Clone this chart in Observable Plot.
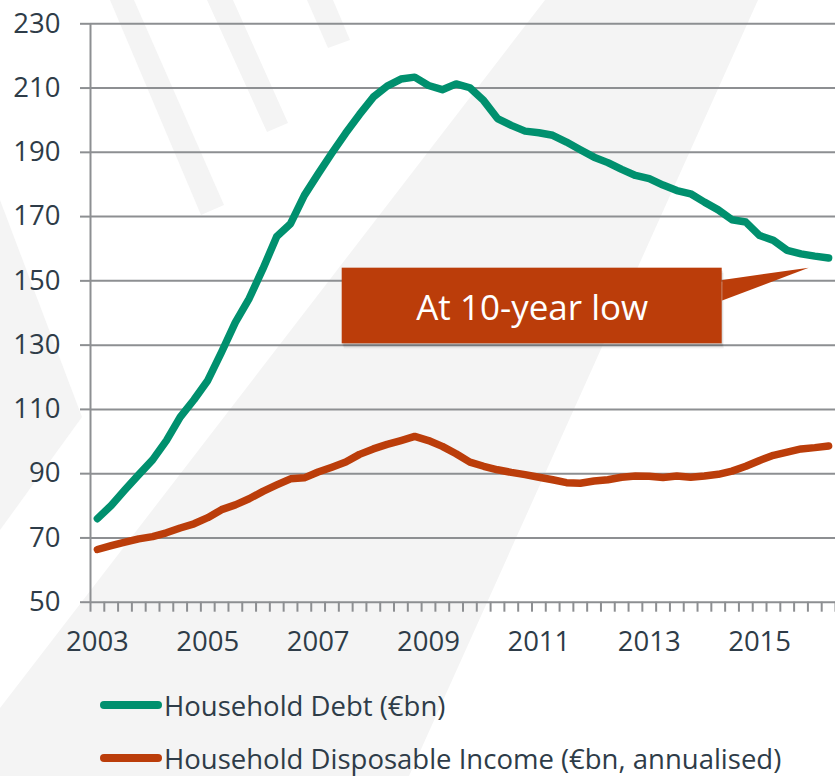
<!DOCTYPE html>
<html>
<head>
<meta charset="utf-8">
<script src="https://cdn.jsdelivr.net/npm/d3@7"></script>
<script src="https://cdn.jsdelivr.net/npm/@observablehq/plot@0.6"></script>
<style>
  html, body { margin: 0; padding: 0; background: #ffffff; }
  #wrap { position: relative; width: 835px; height: 776px; overflow: hidden; font-family: "Open Sans", sans-serif; color: #2e3c48; }
  #deco { position: absolute; left: 0; top: 0; }
  #chart { position: absolute; left: 0; top: 0; }
  #legend { position: absolute; left: 100px; top: 683px; }
  .row { display: flex; align-items: center; height: 44px; margin-bottom: 9px; font-size: 27.5px; white-space: nowrap; }
  .row svg { display: block; margin-right: 2px; }
</style>
</head>
<body>
<div id="wrap">
  <svg id="deco" width="835" height="776">
    <g fill="#f4f4f4">
      <polygon points="545,0 758,0 409,776 0,776 0,708"/>
      <polygon points="0,200 82,417 0,530"/>
      <polygon points="110,0 134,0 224,205 201,215"/>
      <polygon points="207,0 233,0 288,123 267,132"/>
      <polygon points="307,0 333,0 350,40 328,48"/>
    </g>
  </svg>
  <div id="chart"></div>
  <div id="legend"></div>
</div>
<script>
// ---- data ----
const quarters = [
  "2003Q1","2003Q2","2003Q3","2003Q4","2004Q1","2004Q2","2004Q3","2004Q4",
  "2005Q1","2005Q2","2005Q3","2005Q4","2006Q1","2006Q2","2006Q3","2006Q4",
  "2007Q1","2007Q2","2007Q3","2007Q4","2008Q1","2008Q2","2008Q3","2008Q4",
  "2009Q1","2009Q2","2009Q3","2009Q4","2010Q1","2010Q2","2010Q3","2010Q4",
  "2011Q1","2011Q2","2011Q3","2011Q4","2012Q1","2012Q2","2012Q3","2012Q4",
  "2013Q1","2013Q2","2013Q3","2013Q4","2014Q1","2014Q2","2014Q3","2014Q4",
  "2015Q1","2015Q2","2015Q3","2015Q4","2016Q1","2016Q2"
];
const householdDebt = [
  76.0, 80.1, 85.0, 89.7, 94.3, 100.3, 107.6, 113.0,
  119.0, 127.8, 137.1, 144.5, 153.8, 163.8, 167.8, 176.6,
  183.3, 189.8, 196.0, 201.8, 207.2, 210.6, 212.8, 213.4,
  210.8, 209.5, 211.3, 210.1, 206.1, 200.5, 198.4, 196.6,
  196.1, 195.3, 193.2, 190.8, 188.5, 186.8, 184.7, 182.8,
  181.8, 179.8, 178.1, 177.1, 174.5, 172.1, 169.0, 168.3,
  164.1, 162.6, 159.5, 158.4, 157.7, 157.1
];
const disposableIncome = [
  66.4, 67.6, 68.7, 69.7, 70.4, 71.6, 73.1, 74.4,
  76.3, 78.8, 80.3, 82.2, 84.5, 86.5, 88.4, 88.7,
  90.5, 92.0, 93.6, 96.0, 97.7, 99.1, 100.3, 101.6,
  100.3, 98.5, 96.2, 93.6, 92.3, 91.2, 90.4, 89.7,
  88.9, 88.1, 87.2, 87.0, 87.7, 88.1, 88.9, 89.3,
  89.2, 88.8, 89.3, 88.9, 89.3, 89.8, 90.8, 92.3,
  94.1, 95.7, 96.7, 97.7, 98.1, 98.6
];
const yearLabels = ["2003","2005","2007","2009","2011","2013","2015"];
const yTicks = [50, 70, 90, 110, 130, 150, 170, 190, 210, 230];
const seriesNames = ["Household Debt (€bn)", "Household Disposable Income (€bn, annualised)"];
const seriesColors = ["#00906e", "#bb3d0a"];
const noteText = "At 10-year low";
const noteBox = [{x1: 2007.436, x2: 2014.322, y1: 130.4, y2: 153.95}];
const notePointer = [{x: 2014.322, y: 150.3}, {x: 2015.89, y: 154.1}, {x: 2014.322, y: 143.9}];
const noteLabel = [{x: 2010.879, y: 141.3, text: noteText}];

// ---- derived ----
const qx = q => +q.slice(0, 4) + (+q.slice(5) - 1) / 4;
const xs = quarters.map(qx);
const debtData = quarters.map((q, i) => ({x: xs[i], v: householdDebt[i]}));
const incomeData = quarters.map((q, i) => ({x: xs[i], v: disposableIncome[i]}));
const half = 0.125;
const xDomain = [xs[0] - half, xs[xs.length - 1] + half];
const boundaries = xs.map(x => x - half).concat([xs[xs.length - 1] + half]);
const yearTicks = yearLabels.map(Number);

const gray = "#8d8f92";
const textColor = "#2e3c48";

const chart = Plot.plot({
  width: 835,
  height: 660,
  marginTop: 23.3,
  marginBottom: 58.3,
  marginLeft: 90,
  marginRight: 0,
  style: {background: "transparent", fontFamily: "'Open Sans', sans-serif", fontSize: "27.5px", color: textColor},
  x: {domain: xDomain, label: null},
  y: {domain: [50, 230], label: null},
  marks: [
    Plot.gridY(yTicks, {stroke: gray, strokeOpacity: 1, strokeWidth: 2}),
    Plot.axisY({ticks: yTicks, tickSize: 10, tickPadding: 20, stroke: gray, strokeWidth: 2, fill: textColor, label: null}),
    Plot.ruleX([xDomain[0]], {y1: 50, y2: 230, stroke: gray, strokeWidth: 2}),
    Plot.axisX({ticks: boundaries, tickSize: 10, tickFormat: () => "", stroke: gray, strokeWidth: 2, label: null}),
    Plot.axisX({ticks: yearTicks, tickSize: 0, tickPadding: 29, tickFormat: d => String(d), fill: textColor, label: null}),
    Plot.line(incomeData, {x: "x", y: "v", stroke: seriesColors[1], strokeWidth: 7.5, strokeLinecap: "round", strokeLinejoin: "round"}),
    Plot.line(debtData, {x: "x", y: "v", stroke: seriesColors[0], strokeWidth: 7.5, strokeLinecap: "round", strokeLinejoin: "round"}),
    Plot.rect(noteBox, {x1: "x1", x2: "x2", y1: "y1", y2: "y2", fill: "#000", fillOpacity: 0.06, dx: 2, dy: 5}),
    Plot.rect(noteBox, {x1: "x1", x2: "x2", y1: "y1", y2: "y2", fill: "#000", fillOpacity: 0.1, dx: 1, dy: 3}),
    Plot.line(notePointer, {x: "x", y: "y", fill: seriesColors[1], stroke: "none"}),
    Plot.rect(noteBox, {x1: "x1", x2: "x2", y1: "y1", y2: "y2", fill: seriesColors[1]}),
    Plot.text(noteLabel, {x: "x", y: "y", text: "text", fill: "white", fontSize: 35})
  ]
});
document.getElementById("chart").appendChild(chart);

// ---- legend ----
const legend = d3.select("#legend");
seriesNames.forEach((name, i) => {
  const row = legend.append("div").attr("class", "row");
  const sw = row.append("svg").attr("width", 62).attr("height", 10);
  sw.append("line").attr("x1", 4).attr("x2", 58).attr("y1", 5).attr("y2", 5)
    .attr("stroke", seriesColors[i]).attr("stroke-width", 8).attr("stroke-linecap", "round");
  row.append("span").text(name);
});
</script>
</body>
</html>
